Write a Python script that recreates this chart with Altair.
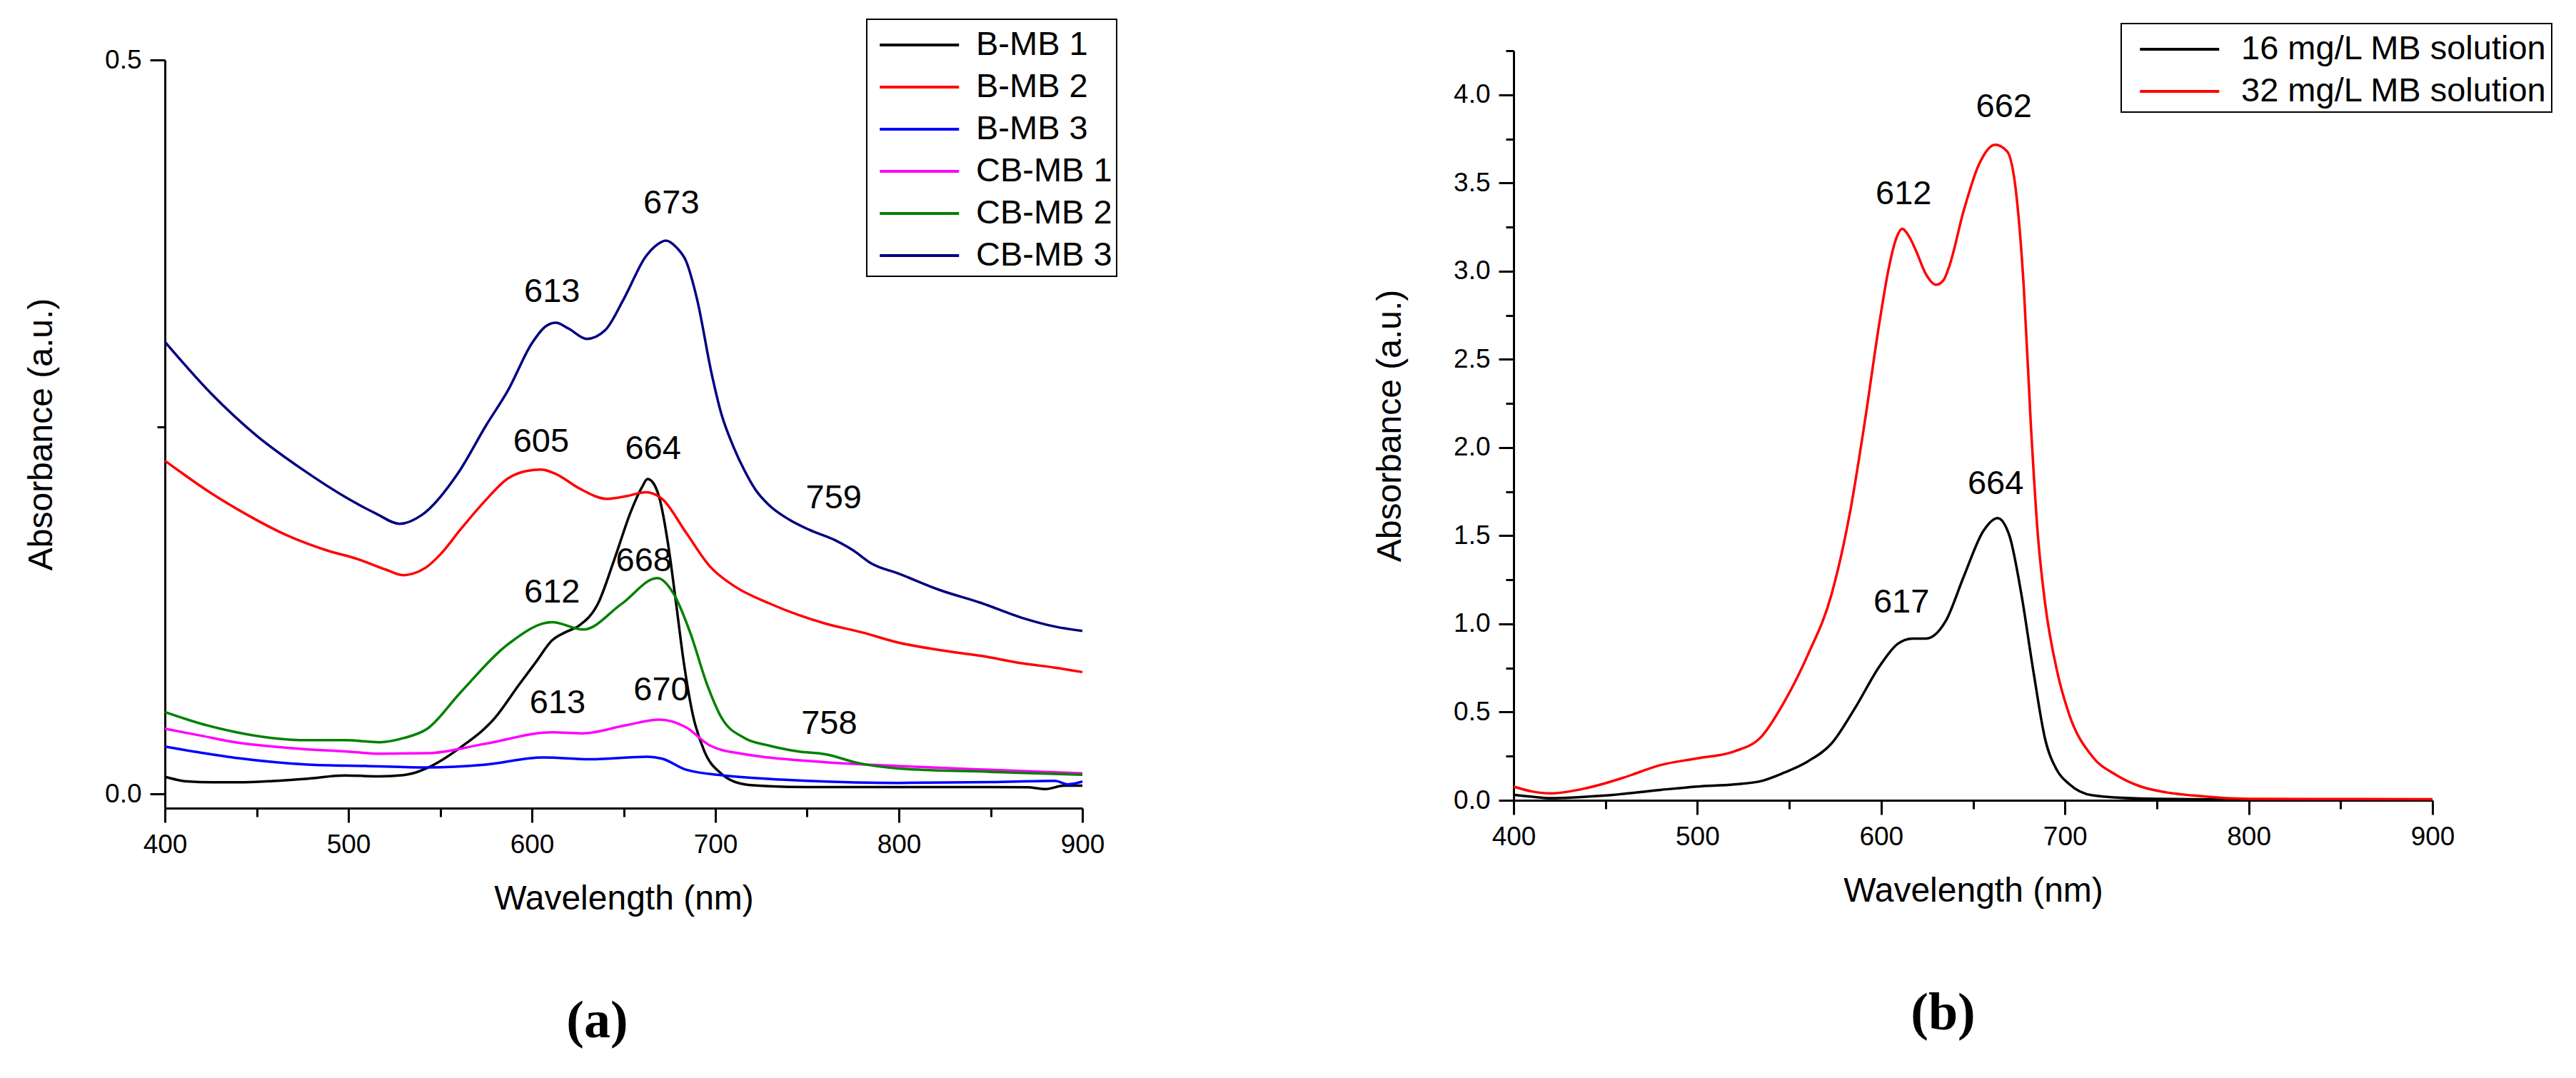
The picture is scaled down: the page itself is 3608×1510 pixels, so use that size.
import altair as alt
import pandas as pd

FONT = "Liberation Sans"

# ---------------- Panel (a) ----------------
bmb1_wl = [400, 412, 426, 440, 459, 478, 498, 517, 530, 535, 543, 561, 580, 593, 602, 611, 618, 625.5, 636, 645, 654, 660, 663, 666, 669.4, 674.6, 678.6, 682.5, 687.7, 694, 703, 716, 729, 750, 800, 850, 870, 880, 890, 900]
bmb1_ab = [0.0117, 0.0085, 0.0079, 0.0079, 0.0088, 0.0104, 0.0125, 0.012, 0.0128, 0.014, 0.0177, 0.0316, 0.052, 0.0744, 0.0895, 0.1046, 0.110, 0.1145, 0.1296, 0.160, 0.1926, 0.209, 0.2145, 0.212, 0.202, 0.167, 0.1296, 0.092, 0.054, 0.029, 0.014, 0.0065, 0.0053, 0.0047, 0.0047, 0.0047, 0.0045, 0.0033, 0.0056, 0.0056]

bmb2_wl = [400, 425, 445, 465, 488, 505, 520, 530, 535, 542, 550, 561, 574, 587, 597, 605, 613, 626, 641, 652, 662, 671, 684, 697, 711, 729, 745, 760, 780, 800, 822, 845, 867, 885, 900]
bmb2_ab = [0.227, 0.205, 0.190, 0.177, 0.166, 0.160, 0.153, 0.149, 0.150, 0.154, 0.163, 0.180, 0.199, 0.215, 0.220, 0.221, 0.218, 0.208, 0.201, 0.203, 0.2055, 0.201, 0.178, 0.155, 0.141, 0.130, 0.122, 0.116, 0.110, 0.103, 0.098, 0.094, 0.089, 0.086, 0.083]

bmb3_wl = [400, 420, 440, 478, 510, 543, 575, 606, 632, 663, 671, 684, 703, 729, 750, 800, 850, 885, 892, 900]
bmb3_ab = [0.0322, 0.028, 0.0243, 0.020, 0.019, 0.018, 0.020, 0.0248, 0.0236, 0.0253, 0.024, 0.0165, 0.0128, 0.0102, 0.0089, 0.0075, 0.008, 0.0089, 0.0065, 0.0084]

cbmb1_wl = [400, 420, 439, 459, 478, 498, 517, 543, 574, 611, 628, 651, 669.5, 684, 697, 716, 729, 760, 800, 850, 900]
cbmb1_ab = [0.0444, 0.0396, 0.035, 0.0322, 0.0303, 0.029, 0.0274, 0.0277, 0.034, 0.042, 0.0413, 0.0467, 0.0506, 0.0454, 0.033, 0.027, 0.0248, 0.0216, 0.019, 0.0164, 0.014]

cbmb2_wl = [400, 420, 439, 459, 478, 498, 517, 530, 543, 561, 587, 611, 628, 649, 668.3, 677.4, 686.4, 695.5, 703.3, 716, 729, 745, 760, 778, 800, 850, 900]
cbmb2_ab = [0.0558, 0.0477, 0.042, 0.038, 0.0366, 0.0366, 0.0352, 0.038, 0.0444, 0.069, 0.102, 0.117, 0.112, 0.1296, 0.147, 0.136, 0.1094, 0.0744, 0.052, 0.038, 0.033, 0.029, 0.027, 0.021, 0.0173, 0.015, 0.013]

cbmb3_wl = [400, 425, 450, 475, 500, 515, 528, 540, 560, 575, 587, 600, 607, 613, 620, 630, 640, 650, 662, 668, 673, 679, 684, 690, 698, 703, 710, 716, 722, 729, 740, 751, 765, 775, 785, 800, 822, 845, 867, 885, 900]
cbmb3_ab = [0.308, 0.273, 0.244, 0.221, 0.201, 0.191, 0.184, 0.190, 0.219, 0.251, 0.275, 0.307, 0.318, 0.321, 0.317, 0.310, 0.316, 0.337, 0.366, 0.374, 0.377, 0.372, 0.363, 0.337, 0.286, 0.260, 0.236, 0.220, 0.207, 0.197, 0.187, 0.180, 0.173, 0.166, 0.157, 0.150, 0.139, 0.130, 0.120, 0.114, 0.111]

series_a = ["B-MB 1", "B-MB 2", "B-MB 3", "CB-MB 1", "CB-MB 2", "CB-MB 3"]
colors_a = ["#000000", "#ff0000", "#0000ff", "#ff00ff", "#008000", "#000080"]

ann_a_wl = [676, 611, 605, 666, 764.5, 661, 611, 614, 670.6, 762]
ann_a_ab = [0.402, 0.342, 0.240, 0.235, 0.2015, 0.1586, 0.137, 0.0618, 0.0705, 0.0478]
ann_a_txt = ["673", "613", "605", "664", "759", "668", "612", "613", "670", "758"]

# ---------------- Panel (b) ----------------
mb16_wl = [400, 410, 420, 450, 480, 500, 520, 535, 547, 560, 573, 586, 599, 609, 617, 624.5, 635, 645, 655.6, 663.3, 669.8, 676.3, 682.8, 689.2, 695.7, 702.2, 715, 741, 800, 900]
mb16_ab = [0.031, 0.020, 0.012, 0.027, 0.059, 0.078, 0.090, 0.110, 0.156, 0.220, 0.322, 0.527, 0.758, 0.887, 0.917, 0.917, 1.014, 1.27, 1.527, 1.60, 1.50, 1.168, 0.733, 0.348, 0.170, 0.093, 0.028, 0.010, 0.004, 0.004]

mb32_wl = [400, 410, 420, 440, 460, 480, 500, 520, 535, 547, 560, 573, 583, 591, 599, 604, 608, 611.5, 615, 619, 624, 630, 634, 637, 645, 653, 662, 668.5, 673.7, 677.6, 681.4, 685.3, 689.2, 695.7, 702.2, 715, 728, 741, 755, 770, 800, 850, 900]
mb32_ab = [0.078, 0.050, 0.039, 0.070, 0.129, 0.200, 0.238, 0.277, 0.363, 0.553, 0.822, 1.168, 1.63, 2.14, 2.705, 3.01, 3.18, 3.24, 3.20, 3.115, 2.99, 2.923, 2.95, 3.026, 3.346, 3.60, 3.717, 3.68, 3.42, 2.91, 2.14, 1.50, 1.117, 0.733, 0.49, 0.247, 0.143, 0.079, 0.045, 0.027, 0.008, 0.007, 0.006]

series_b = ["16 mg/L MB solution", "32 mg/L MB solution"]
colors_b = ["#000000", "#ff0000"]

ann_b_wl = [666.8, 612.2, 662.3, 611.0]
ann_b_ab = [3.93, 3.435, 1.795, 1.12]
ann_b_txt = ["662", "612", "664", "617"]

x_ticks = list(range(400, 901, 50))
ya_ticks = [0.0, 0.25, 0.5]
yb_ticks = [i * 0.25 for i in range(0, 18)]


def long_df(pairs):
    rows = []
    for name, wl, ab in pairs:
        for w, a in zip(wl, ab):
            rows.append({"wl": w, "ab": a, "series": name})
    return pd.DataFrame(rows)


df_a = long_df(zip(series_a,
                   [bmb1_wl, bmb2_wl, bmb3_wl, cbmb1_wl, cbmb2_wl, cbmb3_wl],
                   [bmb1_ab, bmb2_ab, bmb3_ab, cbmb1_ab, cbmb2_ab, cbmb3_ab]))
df_b = long_df(zip(series_b, [mb16_wl, mb32_wl], [mb16_ab, mb32_ab]))
ann_a = pd.DataFrame({"wl": ann_a_wl, "ab": ann_a_ab, "txt": ann_a_txt})
ann_b = pd.DataFrame({"wl": ann_b_wl, "ab": ann_b_ab, "txt": ann_b_txt})


def x_axis():
    return alt.Axis(
        values=x_ticks, title="Wavelength (nm)", format="d",
        labelExpr="datum.value % 100 === 0 ? datum.label : ''",
        tickSize={"condition": {"test": "datum.value % 100 === 0", "value": 20}, "value": 12},
        labelOverlap=False, labelFlush=False, labelPadding=13, titlePadding=34,
    )


def y_axis(vals, test):
    return alt.Axis(
        values=vals, title="Absorbance (a.u.)", format=".1f",
        labelExpr="(" + test + ") ? datum.label : ''",
        tickSize={"condition": {"test": test, "value": 21}, "value": 11},
        labelOverlap=False, labelFlush=False, labelPadding=12, titlePadding=64,
    )


def legend(x, y, sym_off, lab_off):
    return alt.Legend(
        title=None, orient="none", legendX=x, legendY=y,
        symbolType="M-1,0H3", symbolSize=3080, symbolStrokeWidth=4, symbolOffset=sym_off,
        labelFont=FONT, labelFontSize=47, labelOffset=lab_off, labelLimit=2000,
        padding=6, rowPadding=6, strokeColor="black", fillColor="white",
    )


W_A, H_A, OFF_A = 1285, 1048, 13
W_B, H_B = 1287, 1050

lines_a = alt.Chart(df_a).mark_line(strokeWidth=3.5, interpolate="monotone").encode(
    x=alt.X("wl:Q", scale=alt.Scale(domain=[400, 900], nice=False, zero=False), axis=x_axis()),
    y=alt.Y("ab:Q", scale=alt.Scale(domain=[-0.0097, 0.5], nice=False, zero=False,
                                     range=[H_A + OFF_A, OFF_A]),
            axis=y_axis(ya_ticks, "datum.value === 0 || datum.value === 0.5")),
    color=alt.Color("series:N", scale=alt.Scale(domain=series_a, range=colors_a),
                    legend=legend(983, -44, 10, 77)),
    order=alt.Order("wl:Q"),
)
text_a = alt.Chart(ann_a).mark_text(font=FONT, fontSize=47, align="center", baseline="middle",
                                    color="black").encode(x="wl:Q", y="ab:Q", text="txt:N")
panel_a = alt.layer(lines_a, text_a).properties(
    width=W_A, height=H_A + OFF_A,
    title=alt.TitleParams("(a)", orient="bottom", font="Liberation Serif", fontWeight="bold",
                          fontSize=74, dx=-37, offset=112, color="black"),
)

lines_b = alt.Chart(df_b).mark_line(strokeWidth=3.5, interpolate="monotone").encode(
    x=alt.X("wl:Q", scale=alt.Scale(domain=[400, 900], nice=False, zero=False), axis=x_axis()),
    y=alt.Y("ab:Q", scale=alt.Scale(domain=[0, 4.25], nice=False, zero=False),
            axis=y_axis(yb_ticks, "(datum.value * 2) % 1 === 0")),
    color=alt.Color("series:N", scale=alt.Scale(domain=series_b, range=colors_b),
                    legend=legend(851, -38, 18, 84)),
    order=alt.Order("wl:Q"),
)
text_b = alt.Chart(ann_b).mark_text(font=FONT, fontSize=47, align="center", baseline="middle",
                                    color="black").encode(x="wl:Q", y="ab:Q", text="txt:N")
panel_b = alt.layer(lines_b, text_b).properties(
    width=W_B, height=H_B,
    title=alt.TitleParams("(b)", orient="bottom", font="Liberation Serif", fontWeight="bold",
                          fontSize=74, dx=-42, offset=112, color="black"),
)

chart = alt.hconcat(panel_a, panel_b, spacing=604).resolve_scale(
    x="independent", y="independent", color="independent"
).properties(
    bounds="flush", padding={"left": 26, "top": 18, "right": 10, "bottom": 10},
    background="white",
).configure_view(stroke=None).configure_axis(
    labelFont=FONT, labelFontSize=37, labelColor="black",
    titleFont=FONT, titleFontSize=48, titleFontWeight="normal", titleColor="black",
    domainColor="black", domainWidth=3, tickColor="black", tickWidth=3, grid=False,
).configure_legend(strokeWidth=2)

chart.save("out.html", embed_options={"renderer": "svg", "actions": False})
